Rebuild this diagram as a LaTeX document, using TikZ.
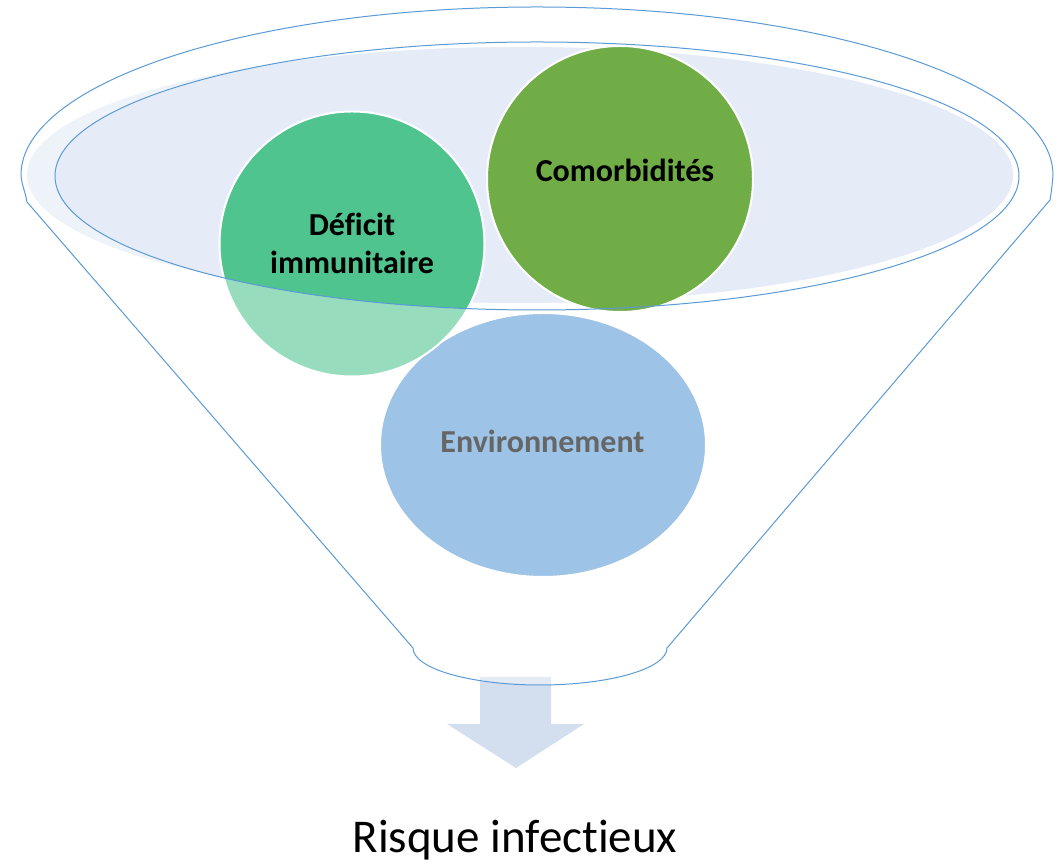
\documentclass[tikz,border=0pt]{standalone}
\usepackage{fontspec}
\setmainfont{Carlito}[Ligatures=NoCommon]
\definecolor{rimblue}{HTML}{5B9BD5}
\definecolor{rimfill}{HTML}{EEF2F9}
\definecolor{topfill}{HTML}{E5ECF7}
\definecolor{defgreen}{HTML}{4FC48E}
\definecolor{defpale}{HTML}{97DDBD}
\definecolor{comgreen}{HTML}{70AD47}
\definecolor{envblue}{HTML}{9DC3E6}
\definecolor{envgray}{HTML}{666666}
\definecolor{downfill}{HTML}{D3DEEF}
\newcommand{\funnelpath}{(413,215) -- (27,661) to[out=100,in=-85] (21,688)
  arc[start angle=180,end angle=0,x radius=516,y radius=168]
  to[out=-95,in=80] (1050,663) -- (667,215)
  arc[start angle=0,end angle=-180,x radius=127,y radius=37] -- cycle}
\newcommand{\toppath}{(537,687) ellipse [x radius=482,y radius=134]}
\tikzset{
  rim/.style={draw=rimblue, line width=1bp},
  ball/.style={draw=white, line width=2bp},
  inlabel/.style={font=\fontsize{32bp}{38bp}\selectfont\bfseries, inner sep=0pt, align=center}
}

\begin{document}
\begin{tikzpicture}[x=1bp,y=1bp]
\useasboundingbox (0,0) rectangle (1059,863);
\fill[downfill] (480,186) -- (551,186) -- (551,139) -- (584,139) -- (516,95)
  -- (447,139) -- (480,139) -- cycle;
\fill[white, opacity=0.4] \funnelpath;
\fill[rimfill] (520,688) ellipse [x radius=493,y radius=128];
\begin{scope}
  \clip \toppath;
  \fill[topfill] (520,688) ellipse [x radius=493,y radius=128];
\end{scope}
\filldraw[fill=envblue, ball] (543,418) ellipse [x radius=163,y radius=132];
\fill[defpale] (352,619) circle (132.5);
\begin{scope}
  \clip \toppath;
  \fill[defgreen] (352,619) circle (132.5);
\end{scope}
\draw[ball] (352,619) circle (132.5);
\filldraw[fill=comgreen, ball] (620,684) circle (133);
\draw[rim] \toppath;
\draw[rim] \funnelpath;
\node[inlabel] (deficit) at (352,620) {Déficit\\immunitaire};
\node[inlabel, anchor=base] (comorb) at (625,681) {Comorbidités};
\node[inlabel, anchor=base, text=envgray] (env) at (542.5,410) {Environnement};
\node[font=\fontsize{47bp}{56bp}\selectfont, inner sep=0pt, anchor=base] (risque) at (515,10) {Risque infectieux};
\end{tikzpicture}
\end{document}
